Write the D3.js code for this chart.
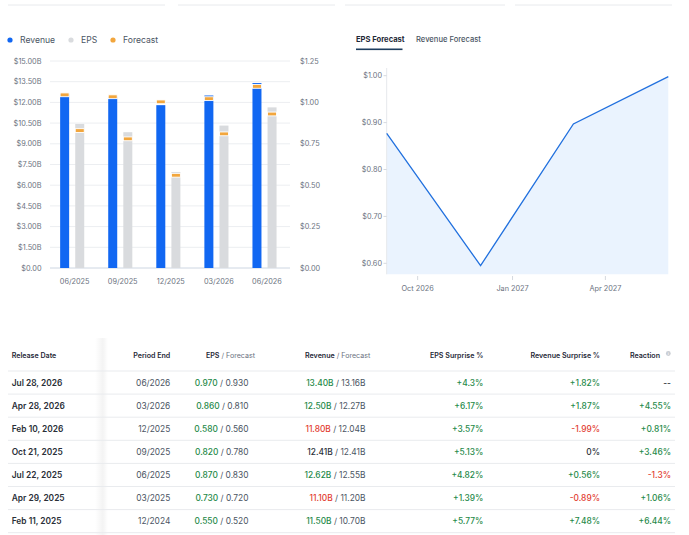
<!DOCTYPE html>
<html>
<head>
<meta charset="utf-8">
<script src="https://cdn.jsdelivr.net/npm/d3@7"></script>
<style>
    body { margin: 0; background: #fff; }
    svg { font-family: Inter, 'Noto Sans', sans-serif; }
</style>
</head>
<body>
<svg width="689" height="535"></svg>
<script>
// Bar chart data (quarters)
const periods = ['06/2025', '09/2025', '12/2025', '03/2026', '06/2026'];
const revenue = [12.62, 12.41, 11.80, 12.50, 13.40];
const revenueForecast = [12.55, 12.41, 12.04, 12.27, 13.16];
const eps = [0.87, 0.82, 0.58, 0.86, 0.97];
const epsForecast = [0.83, 0.78, 0.56, 0.81, 0.93];
const revTicks = [0, 1.5, 3, 4.5, 6, 7.5, 9, 10.5, 12, 13.5, 15];
const epsTicks = [0, 0.25, 0.5, 0.75, 1, 1.25];

// EPS forecast line
const fcDates = ['2026-09-01', '2026-12-01', '2027-03-01', '2027-06-01'];
const fcValues = [0.877, 0.595, 0.897, 0.998];
const fcYTicks = [0.6, 0.7, 0.8, 0.9, 1.0];
const fcXTicks = ['2026-10-01', '2027-01-01', '2027-04-01'];

// Table
const columns = ['Release Date', 'Period End', 'EPS', 'Revenue', 'EPS Surprise %', 'Revenue Surprise %', 'Reaction'];
const releaseDates = ['Jul 28, 2026', 'Apr 28, 2026', 'Feb 10, 2026', 'Oct 21, 2025', 'Jul 22, 2025', 'Apr 29, 2025', 'Feb 11, 2025'];
const periodEnds = ['06/2026', '03/2026', '12/2025', '09/2025', '06/2025', '03/2025', '12/2024'];
const epsActual = ['0.970', '0.860', '0.580', '0.820', '0.870', '0.730', '0.550'];
const epsFc = ['0.930', '0.810', '0.560', '0.780', '0.830', '0.720', '0.520'];
const revActual = ['13.40B', '12.50B', '11.80B', '12.41B', '12.62B', '11.10B', '11.50B'];
const revFc = ['13.16B', '12.27B', '12.04B', '12.41B', '12.55B', '11.20B', '10.70B'];
const epsSurprise = ['+4.3%', '+6.17%', '+3.57%', '+5.13%', '+4.82%', '+1.39%', '+5.77%'];
const revSurprise = ['+1.82%', '+1.87%', '-1.99%', '0%', '+0.56%', '-0.89%', '+7.48%'];
const reaction = ['--', '+4.55%', '+0.81%', '+3.46%', '-1.3%', '+1.06%', '+6.44%'];

const BLUE = '#1167f2', GRAY = '#d9dbde', ORANGE = '#f2a63d';
const GREEN = '#1f8a4a', RED = '#e23b30', TXT = '#2a2f38', MUTED = '#6b7280';

const svg = d3.select('svg');

// faint card edges at the very top
svg.append('g').selectAll('line')
    .data([[8, 165], [178, 335], [345, 505], [515, 672]])
    .enter().append('line')
    .attr('x1', d => d[0]).attr('x2', d => d[1])
    .attr('y1', 5).attr('y2', 5)
    .style('stroke', '#e8eaed');

// ---------- Left: revenue / EPS bars ----------
const x = d3.scaleBand().domain(periods).range([50.6, 291]);
const yRev = d3.scaleLinear().domain([0, 15]).range([268, 61]);
const yEps = d3.scaleLinear().domain([0, 1.25]).range([268, 61]);

const left = svg.append('g');

const legend = left.append('g').attr('transform', 'translate(0,40)');
[['Revenue', BLUE, 10], ['EPS', GRAY, 71], ['Forecast', ORANGE, 113]].forEach(function(l)
{
    legend.append('circle').attr('cx', l[2]).attr('cy', 0).attr('r', 2.6).style('fill', l[1]);
    legend.append('text').attr('x', l[2] + 10).attr('y', 3.2)
        .style('font-size', '8.6px').style('fill', '#4b5563').text(l[0]);
});

left.append('g').selectAll('line')
    .data(revTicks)
    .enter().append('line')
    .attr('x1', 50).attr('x2', 290)
    .attr('y1', d => yRev(d)).attr('y2', d => yRev(d))
    .style('stroke', d => d == 0 ? '#cdd6e2' : '#eceef1');

left.append('g').selectAll('text')
    .data(revTicks)
    .enter().append('text')
    .attr('x', 41.5).attr('y', d => yRev(d) + 2.6)
    .attr('text-anchor', 'end')
    .style('font-size', '7.3px').style('fill', MUTED)
    .text(d => '$' + d.toFixed(2) + (d == 0 ? '' : 'B'));

left.append('g').selectAll('text')
    .data(epsTicks)
    .enter().append('text')
    .attr('x', 300).attr('y', d => yEps(d) + 2.6)
    .style('font-size', '7.3px').style('fill', MUTED)
    .text(d => '$' + d.toFixed(2));

left.append('g').selectAll('text')
    .data(periods)
    .enter().append('text')
    .attr('x', d => x(d) + x.bandwidth() / 2).attr('y', 284)
    .attr('text-anchor', 'middle')
    .style('font-size', '7.3px').style('fill', MUTED)
    .text(d => d);

const barW = 9;
const revX = i => x(periods[i]) + x.bandwidth() / 2 - 14.5;
const epsX = i => x(periods[i]) + x.bandwidth() / 2 + 0.6;

left.append('g').selectAll('rect')
    .data(revenue)
    .enter().append('rect')
    .attr('x', (d, i) => revX(i)).attr('width', barW)
    .attr('y', d => yRev(d)).attr('height', d => yRev(0) - yRev(d))
    .style('fill', BLUE);

left.append('g').selectAll('rect')
    .data(eps)
    .enter().append('rect')
    .attr('x', (d, i) => epsX(i)).attr('width', barW)
    .attr('y', d => yEps(d)).attr('height', d => yEps(0) - yEps(d))
    .style('fill', GRAY);

// forecast markers
function markers(data, scale, xf)
{
    left.append('g').selectAll('rect')
        .data(data)
        .enter().append('rect')
        .attr('x', (d, i) => xf(i)).attr('width', barW)
        .attr('y', d => scale(d) - 1.9).attr('height', 3.8)
        .style('fill', ORANGE)
        .style('stroke', '#fff').style('stroke-width', 0.9);
}
markers(revenueForecast, yRev, revX);
markers(epsForecast, yEps, epsX);

// ---------- Right: EPS forecast ----------
const right = svg.append('g');

right.append('text').attr('x', 356).attr('y', 42)
    .style('font-size', '7.6px').style('font-weight', 700).style('fill', '#1f2937')
    .text('EPS Forecast');
right.append('text').attr('x', 416).attr('y', 42)
    .style('font-size', '7.6px').style('font-weight', 500).style('fill', '#4b5563')
    .text('Revenue Forecast');
right.append('rect').attr('x', 356).attr('y', 48.5).attr('width', 46.5).attr('height', 1.6)
    .style('fill', '#1d3d5e');

const parse = d3.timeParse('%Y-%m-%d');
const fcData = fcDates.map((d, i) => ({date: parse(d), value: fcValues[i]}));
const tx = d3.scaleTime().domain([parse(fcDates[0]), parse(fcDates[3])]).range([386.7, 668.3]);
const ty = d3.scaleLinear().domain([0.6, 1.0]).range([263.3, 75.7]);
const bottom = 274.3;

right.append('path')
    .datum(fcData)
    .attr('d', d3.area().x(d => tx(d.date)).y0(bottom).y1(d => ty(d.value)))
    .style('fill', '#eaf3fe');

right.append('line')
    .attr('x1', 386.7).attr('x2', 386.7).attr('y1', 68).attr('y2', bottom)
    .style('stroke', '#e6e8ec');

right.append('path')
    .datum(fcData)
    .attr('d', d3.line().x(d => tx(d.date)).y(d => ty(d.value)))
    .style('fill', 'none').style('stroke', '#2170de').style('stroke-width', 1.3);

const yTickG = right.append('g').selectAll('g')
    .data(fcYTicks)
    .enter().append('g')
    .attr('transform', d => 'translate(0,' + ty(d) + ')');
yTickG.append('line').attr('x1', 383.5).attr('x2', 386.7).style('stroke', '#d5d9df');
yTickG.append('text').attr('x', 382).attr('y', 2.6).attr('text-anchor', 'end')
    .style('font-size', '7.3px').style('fill', MUTED)
    .text(d => '$' + d.toFixed(2));

const xTickG = right.append('g').selectAll('g')
    .data(fcXTicks.map(parse))
    .enter().append('g')
    .attr('transform', d => 'translate(' + tx(d) + ',0)');
xTickG.append('line').attr('y1', 276).attr('y2', 280).style('stroke', '#d5d9df');
xTickG.append('text').attr('y', 291).attr('text-anchor', 'middle')
    .style('font-size', '7.3px').style('fill', MUTED)
    .text(d3.timeFormat('%b %Y'));

// ---------- Table ----------
const table = svg.append('g');
const rowY = i => 383 + i * 23;

// sticky column shadow
const defs = svg.append('defs');
const grad = defs.append('linearGradient').attr('id', 'shadow');
grad.append('stop').attr('offset', '0%').attr('stop-color', '#000').attr('stop-opacity', 0);
grad.append('stop').attr('offset', '60%').attr('stop-color', '#000').attr('stop-opacity', 0.045);
grad.append('stop').attr('offset', '100%').attr('stop-color', '#000').attr('stop-opacity', 0);
table.append('rect').attr('x', 95).attr('y', 338).attr('width', 13).attr('height', 197)
    .style('fill', 'url(#shadow)');

table.append('g').selectAll('line')
    .data(d3.range(releaseDates.length + 1))
    .enter().append('line')
    .attr('x1', 8).attr('x2', 675)
    .attr('y1', i => 371 + i * 23.1).attr('y2', i => 371 + i * 23.1)
    .style('stroke', '#e9ebee');

// header
const hy = 357.5;
const hdr = (txt, xp, anchor, weight, color) => table.append('text')
    .attr('x', xp).attr('y', hy).attr('text-anchor', anchor)
    .style('font-size', '7.1px').style('font-weight', weight).style('fill', color)
    .text(txt);
hdr(columns[0], 11.7, 'start', 600, '#1f2937');
hdr(columns[1], 170.3, 'end', 600, '#1f2937');
const eh = table.append('text').attr('x', 255).attr('y', hy).attr('text-anchor', 'end')
    .style('font-size', '7.1px').style('fill', '#1f2937');
eh.append('tspan').style('font-weight', 600).text(columns[2]);
eh.append('tspan').style('fill', MUTED).text(' / Forecast');
const rh = table.append('text').attr('x', 370.3).attr('y', hy).attr('text-anchor', 'end')
    .style('font-size', '7.1px').style('fill', '#1f2937');
rh.append('tspan').style('font-weight', 600).text(columns[3]);
rh.append('tspan').style('fill', MUTED).text(' / Forecast');
hdr(columns[4], 483.3, 'end', 600, '#1f2937');
hdr(columns[5], 600, 'end', 600, '#1f2937');
hdr(columns[6], 660, 'end', 600, '#1f2937');
table.append('circle').attr('cx', 668.3).attr('cy', hy - 4).attr('r', 2.4).style('fill', '#c9cdd3');
table.append('text').attr('x', 668.3).attr('y', hy - 2.6).attr('text-anchor', 'middle')
    .style('font-size', '3.5px').style('font-weight', 700).style('fill', '#fff').text('i');

const signColor = s => s.startsWith('+') ? GREEN : (s.startsWith('-') && s != '--' ? RED : TXT);
const revColor = i => {
    const a = parseFloat(revActual[i]), f = parseFloat(revFc[i]);
    return a > f ? GREEN : (a < f ? RED : TXT);
};

releaseDates.forEach(function(d, i)
{
    const y = rowY(i) + 3;
    table.append('text').attr('x', 11.7).attr('y', y)
        .style('font-size', '8.4px').style('font-weight', 600).style('fill', TXT).text(d);
    table.append('text').attr('x', 170.3).attr('y', y).attr('text-anchor', 'end')
        .style('font-size', '8.4px').style('fill', '#4b5563').text(periodEnds[i]);

    const e = table.append('text').attr('x', 248.5).attr('y', y).attr('text-anchor', 'end')
        .style('font-size', '8.4px').style('fill', '#4b5563');
    e.append('tspan').style('fill', GREEN).style('font-weight', 500).text(epsActual[i]);
    e.append('tspan').text(' / ' + epsFc[i]);

    const r = table.append('text').attr('x', 365.5).attr('y', y).attr('text-anchor', 'end')
        .style('font-size', '8.4px').style('fill', '#4b5563');
    r.append('tspan').style('fill', revColor(i)).style('font-weight', 500).text(revActual[i]);
    r.append('tspan').text(' / ' + revFc[i]);

    table.append('text').attr('x', 483.3).attr('y', y).attr('text-anchor', 'end')
        .style('font-size', '8.4px').style('font-weight', 500).style('fill', signColor(epsSurprise[i]))
        .text(epsSurprise[i]);
    table.append('text').attr('x', 600).attr('y', y).attr('text-anchor', 'end')
        .style('font-size', '8.4px').style('font-weight', 500).style('fill', signColor(revSurprise[i]))
        .text(revSurprise[i]);
    table.append('text').attr('x', 671).attr('y', y).attr('text-anchor', 'end')
        .style('font-size', '8.4px').style('font-weight', 500).style('fill', signColor(reaction[i]))
        .text(reaction[i]);
});
</script>
</body>
</html>
